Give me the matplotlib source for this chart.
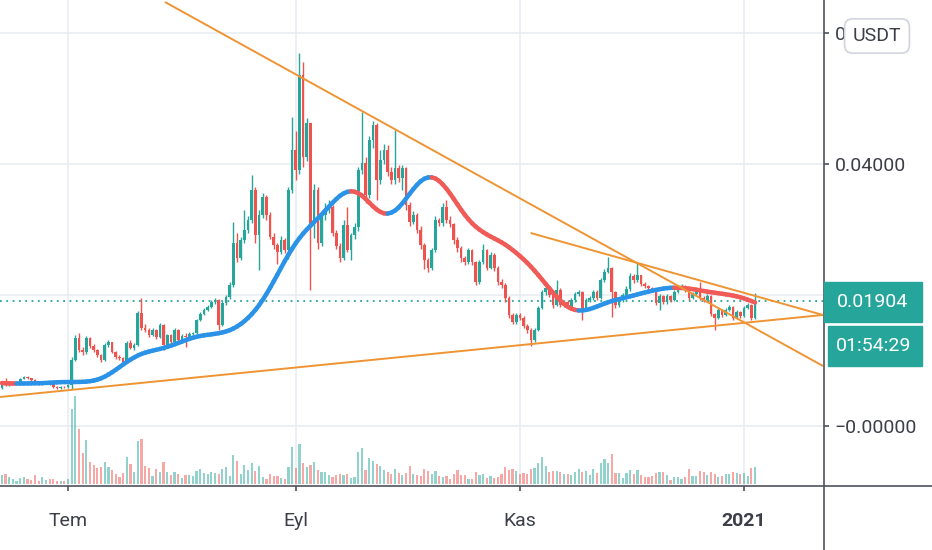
import numpy as np
import pandas as pd
import matplotlib
matplotlib.use('Agg')
import matplotlib.pyplot as plt
import matplotlib.dates as mdates
from matplotlib.collections import LineCollection
from matplotlib.lines import Line2D
from matplotlib.patches import Rectangle

plt.rcParams['font.family'] = ['Roboto', 'DejaVu Sans']

# daily candles, 2020-06-13 .. 2021-01-04 (open = previous close)
first_day = '2020-06-13'
first_open = 0.00580
close = [
    .00656, .00626, .00641, .00656, .00672, .00718, .00748, .00733, .00702, .00672,
    .00641, .00648, .00656, .00641, .00595, .00580, .00595, .00590, .00626, .01008,
    .01343, .01160, .01130, .01343, .01221, .01160, .01084, .01008, .01237, .01282,
    .01130, .01053, .01038, .00977, .01267, .01191, .01237, .01725, .01496, .01466,
    .01389, .01466, .01359, .01542, .01237, .01389, .01282, .01466, .01313, .01374,
    .01359, .01405, .01420, .01618, .01710, .01771, .01817, .01893, .01924, .01542,
    .01878, .01969, .02153, .02794, .02565, .02840, .02992, .03145, .03603, .02916,
    .03221, .03496, .03221, .02885, .02763, .02656, .02840, .02687, .03603, .04214,
    .03908, .05359, .04107, .04626, .03069, .03603, .02794, .03221, .03328, .03343,
    .02947, .02748, .02565, .03069, .02687, .02916, .03038, .03908, .04015, .03527,
    .04366, .04595, .03756, .04061, .04214, .03878, .03756, .03939, .03786, .03939,
    .03374, .03114, .03221, .02992, .02763, .02534, .02412, .02687, .03145, .03099,
    .03343, .03145, .03084, .02840, .02718, .02565, .02504, .02687, .02504, .02198,
    .02504, .02687, .02412, .02611, .02412, .02198, .02153, .01954, .01695, .01588,
    .01695, .01649, .01527, .01466, .01313, .01466, .01802, .02046, .02107, .02000,
    .01847, .02076, .01847, .01893, .01817, .01924, .02015, .02046, .01771, .01924,
    .01954, .02046, .01954, .02229, .02351, .02412, .02046, .01847, .01924, .02000,
    .02092, .02290, .02229, .02300, .02168, .02137, .02107, .02076, .01878, .01985,
    .01893, .01985, .01924, .02046, .02107, .02137, .02076, .01954, .02015, .02080,
    .01954, .01924, .01985, .01710, .01649, .01771, .01695, .01771, .01817, .01649,
    .01740, .01679, .01802, .01847, .01649, .01904,
]
high = [
    .00672, .00733, .00660, .00668, .00690, .00735, .00770, .00760, .00740, .00710,
    .00680, .00665, .00670, .00662, .00645, .00605, .00610, .00605, .00640, .01050,
    .01390, .01420, .01200, .01380, .01360, .01250, .01180, .01100, .01260, .01310,
    .01290, .01150, .01080, .01060, .01300, .01320, .01260, .01760, .01950, .01560,
    .01500, .01490, .01480, .01570, .01550, .01410, .01400, .01490, .01480, .01400,
    .01420, .01430, .01440, .01640, .01740, .01800, .01850, .01930, .01960, .01940,
    .01910, .02000, .02200, .03110, .02950, .02880, .03300, .03200, .03830, .03650,
    .03300, .03550, .03520, .03260, .02950, .02800, .02900, .02870, .03650, .04717,
    .04500, .05695, .05557, .04700, .04626, .03700, .03650, .03300, .03400, .03450,
    .03380, .03000, .02800, .03150, .03343, .02950, .03100, .03950, .04794, .04100,
    .04420, .04650, .04620, .04214, .04300, .04290, .03950, .04519, .03980, .03980,
    .03960, .03420, .03280, .03250, .03050, .02800, .02560, .02720, .03200, .03180,
    .03400, .03450, .03200, .03100, .02880, .02750, .02600, .02720, .02700, .02520,
    .02540, .02780, .02700, .02650, .02640, .02450, .02250, .02180, .01980, .01720,
    .01730, .01720, .01680, .01560, .01500, .01500, .01830, .02080, .02150, .02130,
    .02030, .02229, .02100, .01930, .01920, .01960, .02050, .02080, .02060, .01950,
    .01990, .02080, .02070, .02260, .02400, .02580, .02430, .02060, .01960, .02030,
    .02130, .02330, .02320, .02489, .02310, .02200, .02160, .02120, .02090, .02010,
    .02000, .02010, .02000, .02070, .02140, .02170, .02150, .02090, .02040, .02110,
    .02198, .01980, .02010, .02000, .01730, .01800, .01790, .01800, .01850, .01830,
    .01770, .01760, .01830, .01880, .01860, .02031,
]
low = [
    .00565, .00610, .00618, .00635, .00650, .00665, .00710, .00720, .00690, .00660,
    .00630, .00630, .00640, .00625, .00580, .00560, .00570, .00575, .00575, .00560,
    .00990, .01130, .01090, .01100, .01190, .01130, .01060, .00980, .01000, .01200,
    .01110, .01030, .01010, .00950, .00970, .01170, .01160, .01220, .01460, .01430,
    .01360, .01370, .01330, .01340, .01160, .01220, .01260, .01270, .01290, .01300,
    .01200, .01340, .01390, .01400, .01600, .01690, .01750, .01800, .01860, .01470,
    .01520, .01850, .01940, .02120, .02500, .02540, .02800, .02950, .03100, .02800,
    .02382, .03180, .03150, .02850, .02700, .02480, .02620, .02640, .02550, .03550,
    .03750, .03850, .03950, .04050, .02076, .02870, .02700, .02750, .03150, .03250,
    .02900, .02700, .02500, .02540, .02650, .02530, .02850, .02980, .03850, .03400,
    .03480, .04250, .03450, .03700, .04000, .03820, .03700, .03700, .03720, .03603,
    .03300, .03050, .03080, .02950, .02700, .02400, .02350, .02380, .02650, .03050,
    .03050, .03100, .03040, .02780, .02660, .02500, .02460, .02480, .02460, .02150,
    .02170, .02480, .02380, .02390, .02370, .02150, .02100, .01900, .01650, .01550,
    .01560, .01620, .01500, .01420, .01221, .01290, .01450, .01780, .02000, .01970,
    .01800, .01830, .01820, .01820, .01790, .01800, .01900, .01990, .01618, .01750,
    .01900, .01930, .01920, .01940, .02200, .02330, .01664, .01800, .01820, .01900,
    .01980, .02060, .02190, .02200, .02130, .02100, .02080, .02040, .01840, .01771,
    .01860, .01870, .01900, .01910, .02030, .02090, .02050, .01930, .01940, .02000,
    .01930, .01900, .01910, .01680, .01466, .01630, .01670, .01680, .01750, .01620,
    .01630, .01650, .01660, .01780, .01620, .01640,
]
# relative volume (hidden scale)
volume = [
    9, 10, 7, 5, 3, 6, 7, 5, 4, 9, 3, 7, 4, 5, 5, 3, 3, 3, 5, 75,
    88, 55, 31, 44, 22, 19, 16, 17, 22, 17, 14, 10, 7, 11, 27, 20, 12, 43, 45, 18,
    16, 8, 15, 12, 22, 12, 9, 12, 10, 6, 9, 9, 8, 13, 15, 11, 10, 12, 11, 10,
    15, 17, 8, 29, 23, 10, 19, 14, 21, 13, 18, 7, 5, 10, 8, 8, 6, 5, 17, 37,
    16, 40, 21, 17, 19, 22, 14, 12, 12, 9, 7, 9, 10, 9, 10, 6, 7, 32, 36, 14,
    26, 23, 20, 18, 14, 12, 10, 15, 11,
    9, 11, 18, 10, 9, 8, 15, 13, 10, 13, 8, 7, 8, 5, 10, 14, 9, 9, 5, 5,
    12, 9, 10, 6, 8, 6, 7, 10, 17, 14, 15, 13, 10, 11, 10, 15, 16, 21, 27, 18,
    12, 13, 13, 12, 10, 10, 9, 12, 15, 12, 13, 9, 15, 11, 21, 25, 21, 30, 11, 11,
    6, 11, 14, 10, 14, 9, 7, 7, 8, 11, 12, 12, 9, 4, 7, 7, 5, 7, 15, 8,
    8, 13, 12, 9, 12, 10, 7, 8, 10, 10, 12, 11, 10, 11, 8, 16, 17,
]

month_ticks = ['2020-07-01', '2020-09-01', '2020-11-01', '2021-01-01']
month_labels = ['Tem', 'Eyl', 'Kas', '2021']
price_ticks = [0.0, 0.02, 0.04, 0.06]
price_labels = ['\u22120.00000', '', '0.04000', '0.06000']
last_price = 0.01904
countdown = '01:54:29'
currency = 'USDT'

# hand-drawn trend lines: (start date, start price), (end date, end price)
trend_lines = [
    (('2020-07-27 09:36', 0.06473), ('2021-01-22 12:00', 0.00916)),
    (('2020-11-03 21:36', 0.02947), ('2021-01-22 12:00', 0.01695)),
    (('2020-06-12 12:00', 0.00443), ('2021-01-22 12:00', 0.01695)),
]

UP = '#26a69a'
DOWN = '#ef5350'
AXIS = '#50535e'
TEXT = '#3c3f48'
W, H = 932, 550

dates = pd.date_range(first_day, periods=len(close), freq='D')
x = mdates.date2num(dates)
c = np.array(close)
o = np.r_[first_open, c[:-1]]
up = c >= o
cols = np.where(up, UP, DOWN)

fig = plt.figure(figsize=(W / 100, H / 100), dpi=100)
rect = [0, 64 / H, 824 / W, 486 / H]
ax = fig.add_axes(rect)
x_jul = mdates.date2num(pd.Timestamp('2020-07-01'))
ax.set_xlim(x_jul - 18.51, x_jul + 205.77)
ax.set_ylim(-0.00916, 0.06504)
for s in ax.spines.values():
    s.set_visible(False)

ax.grid(True, color='#e9ecf1', lw=1.2, zorder=0)
ax.set_axisbelow(True)

# candles
ax.vlines(x, low, high, colors=cols, lw=1.0, zorder=3)
ax.bar(x, np.abs(c - o) + 0.00005, bottom=np.minimum(o, c), width=0.72,
       color=cols, zorder=4, linewidth=0)

# smoothed moving average (three stacked SMAs), coloured by slope
ma = pd.Series(c)
for n in (10, 10, 10):
    ma = ma.rolling(n, min_periods=1).mean()
ma = ma.values
pts = np.column_stack([x, ma])
segs = np.stack([pts[:-1], pts[1:]], axis=1)
seg_cols = np.where(np.diff(ma) >= 0, '#2a93e8', '#f05a57')
ax.add_collection(LineCollection(segs, colors=seg_cols, linewidths=3.2,
                                 capstyle='round', joinstyle='round', zorder=5))

# trend lines
for (d0, p0), (d1, p1) in trend_lines:
    ax.plot(mdates.date2num([pd.Timestamp(d0), pd.Timestamp(d1)]), [p0, p1],
            color='#ef9433', lw=1.4, zorder=6, solid_capstyle='butt')

ax.axhline(last_price, color=UP, lw=1.3, ls=(0, (1, 2.5)), zorder=2)

# axes ticks
ax.set_xticks(mdates.date2num(pd.to_datetime(month_ticks)))
ax.set_xticklabels(month_labels)
ax.tick_params(axis='x', length=3.6, width=1.2, color=AXIS, pad=15,
               labelsize=14, labelcolor=TEXT)
ax.get_xticklabels()[-1].set_fontweight('bold')
ax.yaxis.tick_right()
ax.set_yticks(price_ticks)
ax.set_yticklabels(price_labels)
ax.tick_params(axis='y', length=3.6, width=1.2, color=AXIS, pad=4,
               labelsize=14, labelcolor=TEXT)

# volume overlay
axv = fig.add_axes(rect, sharex=ax)
axv.set_ylim(-2, 484)
axv.patch.set_alpha(0)
axv.axis('off')
axv.bar(x, volume, width=0.6, color=cols, alpha=0.5, linewidth=0)


def fx(px):
    return px / W


def fy(py):
    return 1 - py / H


fig.add_artist(Line2D([fx(824), fx(824)], [0, 1], color=AXIS, lw=1.2))
fig.add_artist(Line2D([0, 1], [fy(486), fy(486)], color=AXIS, lw=1.2))

# last price and countdown labels
fig.add_artist(Rectangle((fx(824), fy(322)), 98 / W, 40 / H, color=UP, zorder=5))
fig.text(fx(873), fy(302), '{:.5f}'.format(last_price), color='white',
         ha='center', va='center', fontsize=14, zorder=6)
fig.add_artist(Rectangle((fx(828), fy(366)), 94 / W, 40 / H, color=UP, zorder=5))
fig.text(fx(874), fy(346), countdown, color='white', ha='center', va='center',
         fontsize=14, zorder=6)

fig.text(fx(877), fy(36), currency, color=TEXT, ha='center', va='center', fontsize=14,
         zorder=6, bbox=dict(boxstyle='round,pad=0.42', fc='white', ec='#d1d4dc', lw=1.2))

fig.savefig('out.png', dpi=100, facecolor='white')
